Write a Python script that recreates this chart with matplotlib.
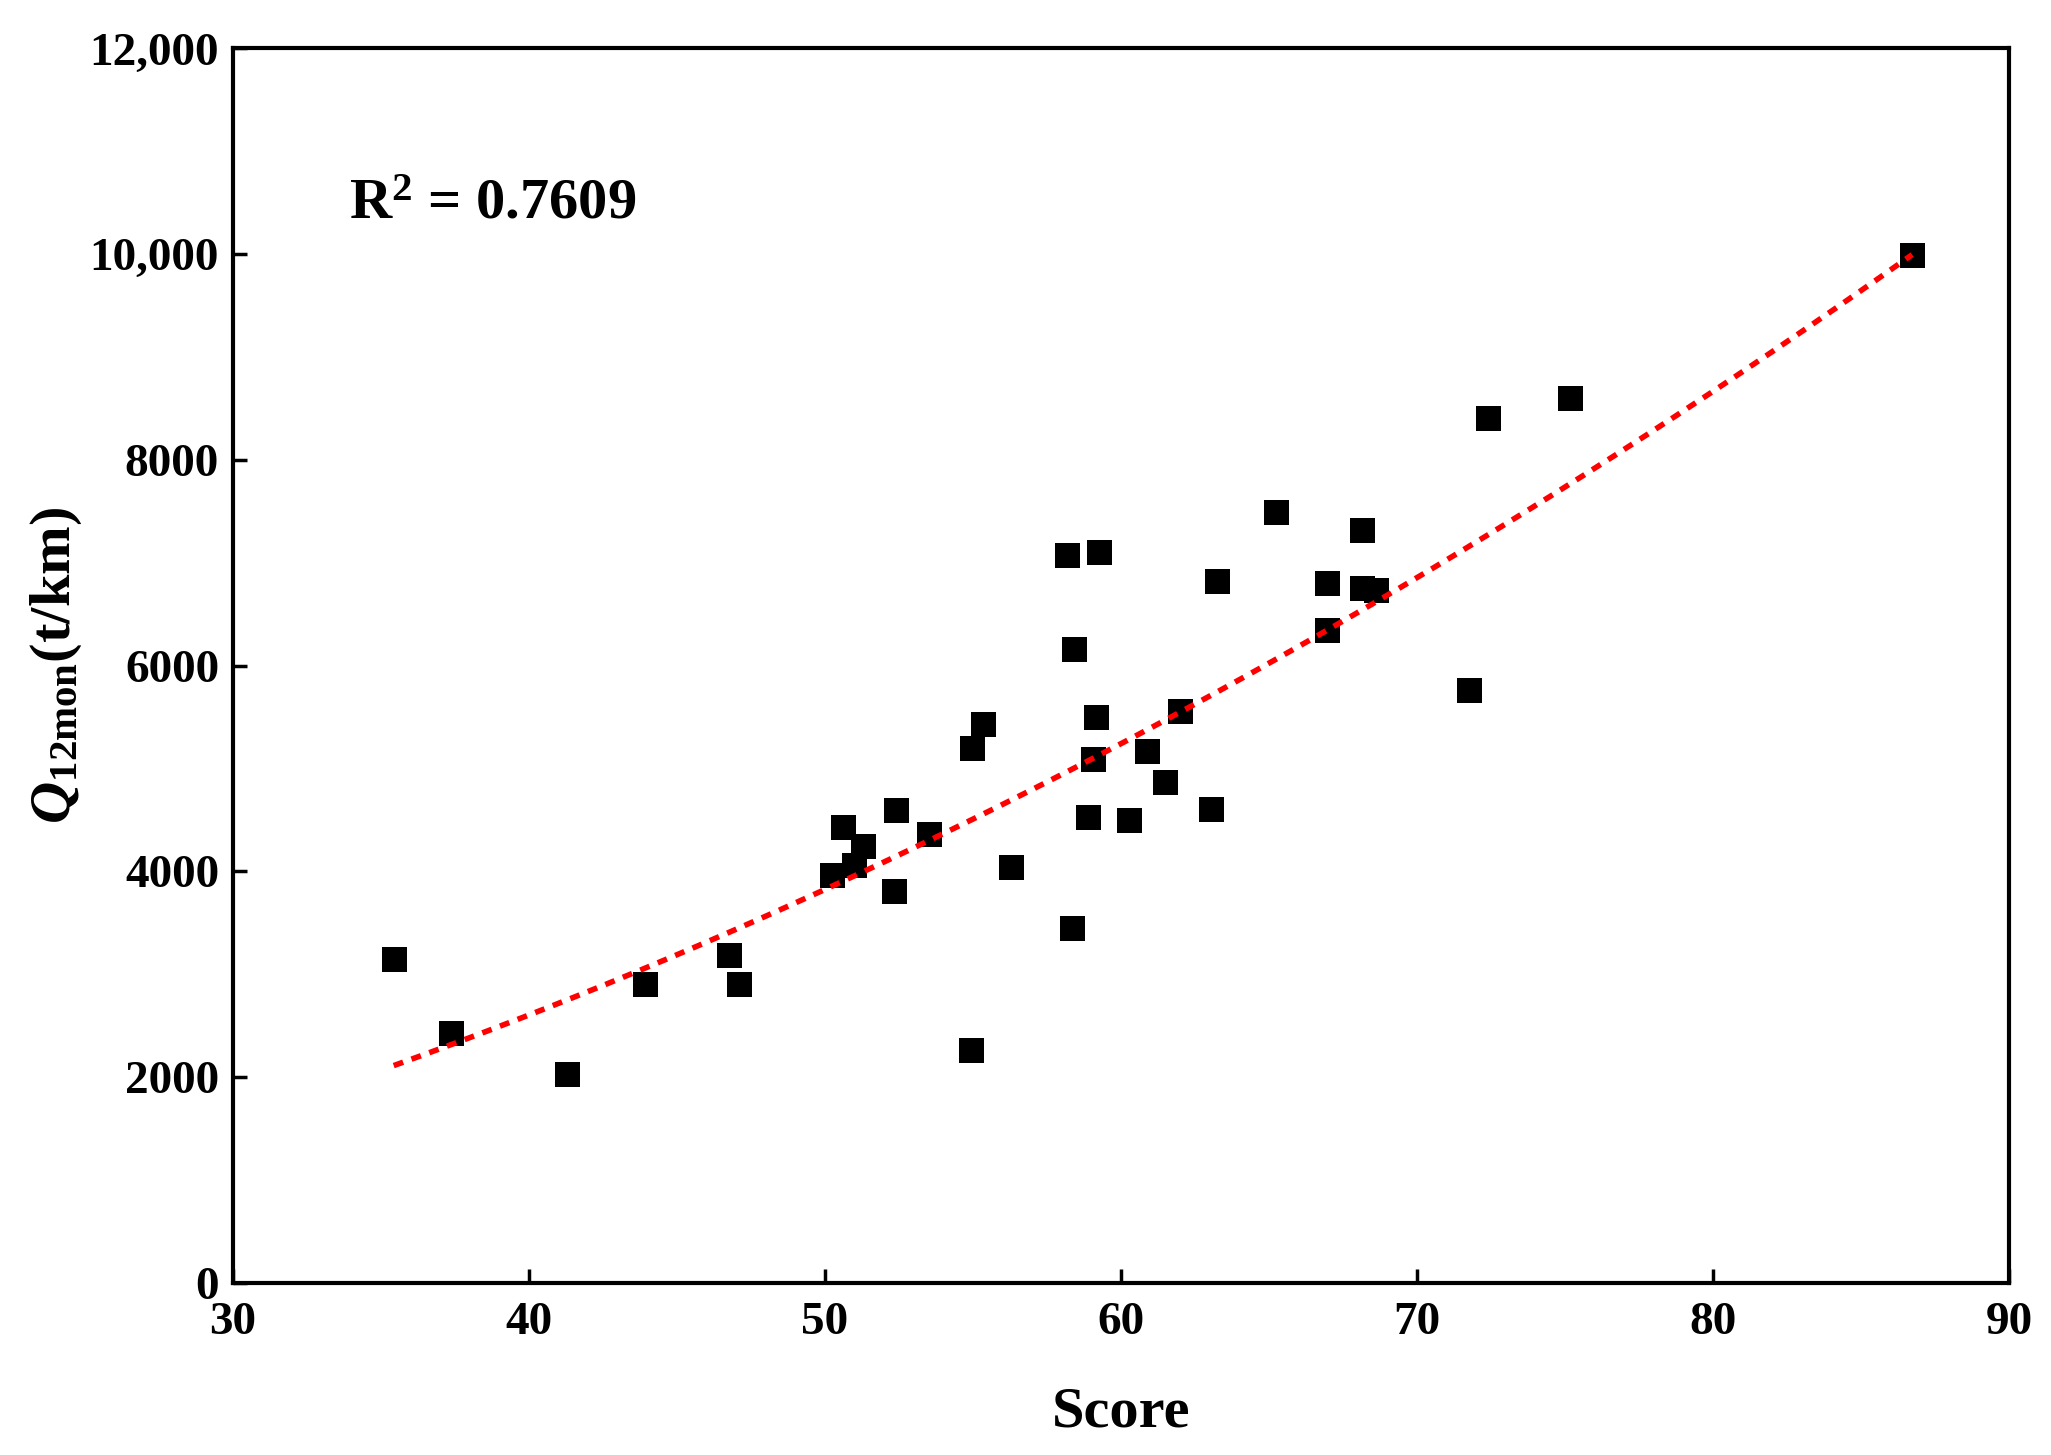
import numpy as np
import matplotlib.pyplot as plt

plt.rcParams['font.family'] = ['Liberation Serif', 'DejaVu Serif']
plt.rcParams['font.weight'] = 'bold'
plt.rcParams['mathtext.fontset'] = 'custom'
plt.rcParams['mathtext.rm'] = 'Liberation Serif:bold'
plt.rcParams['mathtext.bf'] = 'Liberation Serif:bold'
plt.rcParams['mathtext.it'] = 'Liberation Serif:italic:bold'
plt.rcParams['mathtext.bfit'] = 'Liberation Serif:italic:bold'

# data
score = [35.43, 37.38, 41.27, 43.92, 46.75, 47.10, 50.24, 50.61, 50.99, 51.30,
         52.33, 52.40, 53.51, 54.92, 54.96, 55.34, 56.29, 58.18, 58.35, 58.41,
         58.90, 59.06, 59.16, 59.25, 60.27, 60.88, 61.49, 61.99, 63.05, 63.25,
         65.24, 66.96, 66.96, 68.13, 68.13, 68.62, 71.75, 72.40, 75.16, 86.73]
q12 = [3153, 2428, 2034, 2911, 3191, 2911, 3966, 4436, 4068, 4246,
       3814, 4602, 4360, 2263, 5199, 5434, 4042, 7081, 3451, 6165,
       4531, 5098, 5504, 7106, 4500, 5174, 4869, 5560, 4608, 6826,
       7495, 6348, 6801, 7322, 6755, 6737, 5765, 8408, 8600, 9992]

# trend curve as drawn in the figure (quadratic)
trend_coef = [0.984, 33.45, -307.0]

xticks = [30, 40, 50, 60, 70, 80, 90]
yticks = [0, 2000, 4000, 6000, 8000, 10000, 12000]
ytick_labels = ['0', '2000', '4000', '6000', '8000', '10,000', '12,000']

x = np.array(score)
y = np.array(q12)

xx = np.linspace(x.min(), x.max(), 200)
yy = np.polyval(trend_coef, xx)

fig = plt.figure(figsize=(20.51, 14.55), dpi=100)
ax = fig.add_axes([0.1136, 0.1182, 0.8659, 0.8485])

ax.scatter(x, y, marker='s', s=18 ** 2, c='black', linewidths=0, zorder=2)
ax.plot(xx, yy, color='#ff0000', lw=4, linestyle=(0, (1.8, 1.6)), zorder=3)

ax.set_xlim(30, 90)
ax.set_ylim(0, 12000)
ax.set_xticks(xticks)
ax.set_yticks(yticks)
ax.set_yticklabels(ytick_labels)

for s in ax.spines.values():
    s.set_linewidth(3)
ax.tick_params(direction='in', length=10, width=2.5, labelsize=34)
ax.tick_params(axis='x', pad=14)
ax.tick_params(axis='y', pad=10)
for lab in ax.get_xticklabels() + ax.get_yticklabels():
    lab.set_fontweight('bold')

ax.set_xlabel('Score', fontsize=42, fontweight='bold', labelpad=30)
ax.set_ylabel(r'$\mathbfit{Q}_{\mathbf{12mon}}$(t/km)', fontsize=42,
              fontweight='bold', labelpad=4)

ax.text(0.0655, 0.874, r'R$^{\mathbf{2}}$ = 0.7609', transform=ax.transAxes,
        fontsize=42, fontweight='bold', va='center', ha='left')

fig.savefig('out.png', dpi=100)
